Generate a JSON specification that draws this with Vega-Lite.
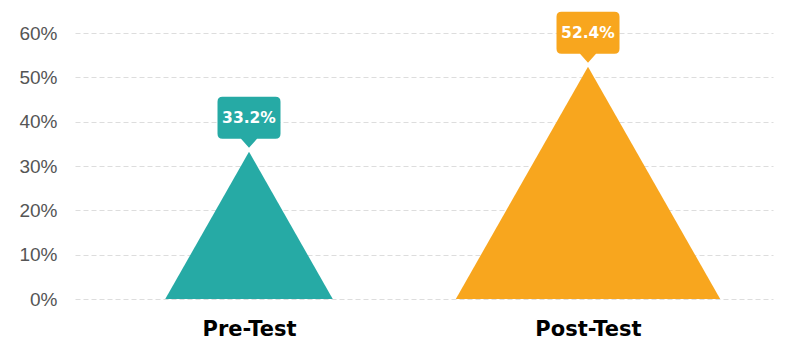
{
  "$schema": "https://vega.github.io/schema/vega-lite/v6.json",
  "autosize": {"type": "none"},
  "width": 698,
  "height": 266,
  "padding": {"left": 75, "top": 33, "right": 27, "bottom": 53},
  "background": "white",
  "config": {"view": {"stroke": null}},
  "data": {"values": [
    {"test": "Pre-Test", "value": 0.332},
    {"test": "Post-Test", "value": 0.524}
  ]},
  "encoding": {
    "x": {
      "field": "test", "type": "nominal", "sort": ["Pre-Test", "Post-Test"],
      "scale": {"type": "point", "padding": 0.5295, "align": 0.4847},
      "axis": {"title": null, "domain": false, "ticks": false, "grid": false, "labelAngle": 0,
        "labelFont": "DejaVu Sans", "labelFontWeight": "bold", "labelFontSize": 21, "labelColor": "#000000", "labelPadding": 19,
        "encode": {"labels": {"update": {"dx": {"signal": "datum.value === 'Pre-Test' ? -5 : 0"}}}}}
    },
    "y": {
      "field": "value", "type": "quantitative",
      "scale": {"domain": [0, 0.6], "nice": false},
      "axis": {"title": null, "domain": false, "ticks": false, "values": [0, 0.1, 0.2, 0.3, 0.4, 0.5, 0.6], "format": ".0%",
        "labelFont": "Liberation Sans", "labelFontSize": 19, "labelColor": "#555555", "labelPadding": 18,
        "gridColor": "#dddddd", "gridDash": [5, 3], "gridWidth": 1}
    },
    "color": {"field": "test", "type": "nominal", "scale": {"domain": ["Pre-Test", "Post-Test"], "range": ["#26AAA5", "#F8A61E"]}, "legend": null}
  },
  "layer": [
    {
      "mark": {"type": "point", "filled": true, "opacity": 1, "strokeWidth": 0, "shape": "M0,0L1.138,2L-1.138,2Z", "clip": false},
      "encoding": {
        "size": {"field": "value", "type": "quantitative", "scale": {"type": "pow", "exponent": 2, "domain": [0, 0.6], "range": [0, 70756]}, "legend": null}
      }
    },
    {
      "mark": {"type": "point", "filled": true, "opacity": 1, "strokeWidth": 0, "size": 4,
        "shape": "M0,-4L-8,-13L-26.5,-13Q-31.5,-13,-31.5,-18L-31.5,-50Q-31.5,-55,-26.5,-55L26.5,-55Q31.5,-55,31.5,-50L31.5,-18Q31.5,-13,26.5,-13L8,-13Z"}
    },
    {
      "mark": {"type": "text", "dy": -34, "font": "DejaVu Sans", "fontWeight": "bold", "fontSize": 15.5, "color": "white", "baseline": "middle", "align": "center"},
      "encoding": {
        "text": {"field": "value", "type": "quantitative", "format": ".1%"},
        "color": {"value": "white"}
      }
    }
  ]
}
